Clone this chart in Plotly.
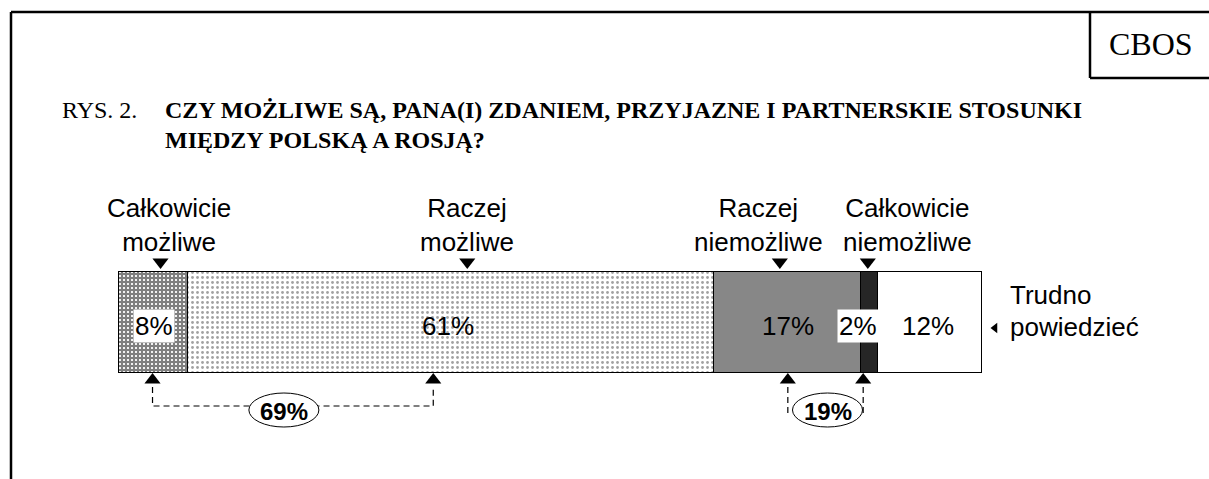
import plotly.graph_objects as go

# ---- data ----
categories = ["Całkowicie możliwe", "Raczej możliwe", "Raczej niemożliwe",
              "Całkowicie niemożliwe", "Trudno powiedzieć"]
values = [8, 61, 17, 2, 12]
value_labels = ["8%", "61%", "17%", "2%", "12%"]
top_labels = ["Całkowicie<br>możliwe", "Raczej<br>możliwe", "Raczej<br>niemożliwe",
              "Całkowicie<br>niemożliwe"]
side_label = ["Trudno", "powiedzieć"]
group_sums = [69, 19]
title_prefix = "RYS. 2."
title_lines = ["CZY MOŻLIWE SĄ, PANA(I) ZDANIEM, PRZYJAZNE I PARTNERSKIE STOSUNKI",
               "MIĘDZY POLSKĄ A ROSJĄ?"]
brand = "CBOS"

# ---- geometry (pixel layout) ----
W, H = 1209, 479
BAR_L, BAR_R = 119, 982
PPU = (BAR_R - BAR_L) / 100.0
XMIN = -BAR_L / PPU
XMAX = (W - BAR_L) / PPU


def d(px_off):
    """pixel offset -> data units"""
    return px_off / PPU


SANS = "Liberation Sans, Arial, sans-serif"
SERIF = "Liberation Serif, Times New Roman, serif"

starts = []
acc = 0
for v in values:
    starts.append(acc)
    acc += v
centers = [s + v / 2 for s, v in zip(starts, values)]

BAR_Y = 322
BAR_H = 101
FS = 26

styles = [
    dict(color="white", pattern=dict(shape="+", fgcolor="black", bgcolor="white",
                                     size=4, solidity=0.8)),
    dict(color="white", pattern=dict(shape=".", fgcolor="#444444", bgcolor="white",
                                     size=5, solidity=0.25)),
    dict(color="#878787"),
    dict(color="#262626"),
    dict(color="white"),
]

fig = go.Figure()
for cat, v, st in zip(categories, values, styles):
    fig.add_trace(go.Bar(
        x=[v], y=[BAR_Y], orientation="h", width=BAR_H, name=cat,
        marker=dict(line=dict(color="black", width=1.2), **st),
        showlegend=False, hoverinfo="skip"))

ann = []
# value labels inside bar
label_off = [0, -3, 0, -12, -2]
for i, (c, t) in enumerate(zip(centers, value_labels)):
    a = dict(x=c + d(label_off[i]), y=326, text=t, showarrow=False,
             font=dict(family=SANS, size=FS, color="black"),
             xanchor="center", yanchor="middle")
    if i in (0, 3):
        a.update(bgcolor="white", borderpad=1)
    ann.append(a)

# top labels
top_label_x = [centers[0] + d(15), centers[1] + d(16), centers[2] - d(29), centers[3] + d(38)]
top_tri_x = [centers[0] + d(7), centers[1] + d(16), centers[2] - d(8), centers[3] - d(2)]
for x, t in zip(top_label_x, top_labels):
    ann.append(dict(x=x, y=225, text=t, showarrow=False,
                    font=dict(family=SANS, size=FS, color="black"),
                    xanchor="center", yanchor="middle"))

fig.add_trace(go.Scatter(x=top_tri_x, y=[262] * 4, mode="markers",
                         marker=dict(symbol="triangle-down", size=14, color="black"),
                         showlegend=False, hoverinfo="skip"))

# side label
ann.append(dict(x=100 + d(26), y=295, text=side_label[0], showarrow=False,
                font=dict(family=SANS, size=FS, color="black"),
                xanchor="left", yanchor="middle"))
ann.append(dict(x=100 + d(26), y=327, text=side_label[1], showarrow=False,
                font=dict(family=SANS, size=FS, color="black"),
                xanchor="left", yanchor="middle"))
fig.add_trace(go.Scatter(x=[100 + d(13)], y=[328], mode="markers",
                         marker=dict(symbol="triangle-left", size=9, color="black"),
                         showlegend=False, hoverinfo="skip"))

# bottom up-triangles and dashed brackets
bot_x = [centers[0] - d(1), centers[1] - d(18), centers[2], starts[3] + d(2)]
fig.add_trace(go.Scatter(x=bot_x, y=[380] * 4, mode="markers",
                         marker=dict(symbol="triangle-up", size=14, color="black"),
                         showlegend=False, hoverinfo="skip"))
fig.add_trace(go.Scatter(x=[bot_x[0], bot_x[0], bot_x[1], bot_x[1]],
                         y=[387, 406, 406, 387], mode="lines",
                         line=dict(color="black", width=1.2, dash="6px,4px"),
                         showlegend=False, hoverinfo="skip"))
for xx in bot_x[2:]:
    fig.add_trace(go.Scatter(x=[xx, xx], y=[387, 413], mode="lines",
                             line=dict(color="black", width=1.2, dash="6px,4px"),
                             showlegend=False, hoverinfo="skip"))

shapes = []
ell = [((bot_x[0] + bot_x[1]) / 2 - d(9), 70), ((bot_x[2] + bot_x[3]) / 2 + d(2), 70)]
for (cx, wpx), s in zip(ell, group_sums):
    shapes.append(dict(type="circle", xref="x", yref="y",
                       x0=cx - d(wpx / 2), x1=cx + d(wpx / 2), y0=393, y1=427,
                       line=dict(color="black", width=1), fillcolor="white", layer="above"))
    ann.append(dict(x=cx, y=411, text=f"<b>{s}%</b>", showarrow=False,
                    font=dict(family=SANS, size=24, color="black"),
                    xanchor="center", yanchor="middle"))

# title
ann.append(dict(x=60 / W, y=1 - 110 / H, xref="paper", yref="paper", text=title_prefix,
                showarrow=False, font=dict(family=SERIF, size=24, color="black"),
                xanchor="left", yanchor="middle"))
for i, line in enumerate(title_lines):
    ann.append(dict(x=163 / W, y=1 - (110 + 30 * i) / H, xref="paper", yref="paper",
                    text=f"<b>{line}</b>", showarrow=False,
                    font=dict(family=SERIF, size=24, color="black"),
                    xanchor="left", yanchor="middle"))

# brand box
ann.append(dict(x=1151 / W, y=1 - 44 / H, xref="paper", yref="paper", text=brand,
                showarrow=False, font=dict(family=SERIF, size=32, color="black"),
                xanchor="center", yanchor="middle"))

# frame lines
frame = dict(color="black", width=2.5)
shapes += [
    dict(type="line", xref="paper", yref="paper", x0=11 / W, x1=11 / W, y0=-0.05, y1=1 - 12 / H, line=frame),
    dict(type="line", xref="paper", yref="paper", x0=11 / W, x1=1.0, y0=1 - 12 / H, y1=1 - 12 / H, line=frame),
    dict(type="line", xref="paper", yref="paper", x0=1090 / W, x1=1090 / W, y0=1 - 12 / H, y1=1 - 78 / H, line=frame),
    dict(type="line", xref="paper", yref="paper", x0=1090 / W, x1=1.0, y0=1 - 78 / H, y1=1 - 78 / H, line=frame),
]

fig.update_layout(
    width=W, height=H, autosize=False,
    margin=dict(l=0, r=0, t=0, b=0, pad=0),
    paper_bgcolor="white", plot_bgcolor="white",
    barmode="stack", bargap=0,
    xaxis=dict(range=[XMIN, XMAX], visible=False, fixedrange=True),
    yaxis=dict(range=[H, 0], visible=False, fixedrange=True),
    annotations=ann, shapes=shapes,
)

fig.write_html("out.html", config={"displayModeBar": False},
               post_script="document.body.style.margin='0';document.body.style.overflow='hidden';")
